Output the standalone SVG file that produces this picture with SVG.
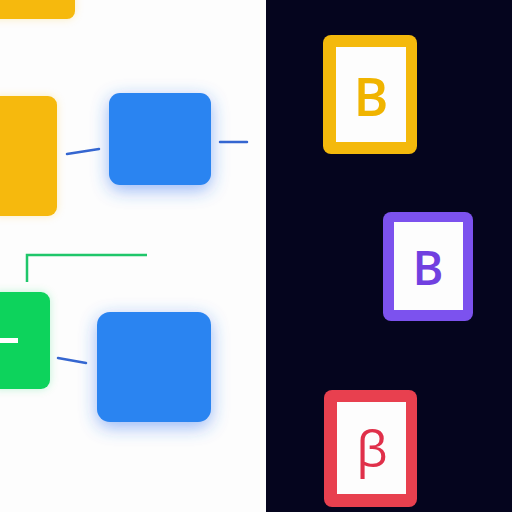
<svg xmlns="http://www.w3.org/2000/svg" width="512" height="512" viewBox="0 0 512 512">
  <defs>
    <filter id="shadow" x="-40%" y="-40%" width="180%" height="180%">
      <feGaussianBlur in="SourceAlpha" stdDeviation="9" result="b"/>
      <feOffset in="b" dy="5" result="o"/>
      <feFlood flood-color="#2f6ff0" flood-opacity="0.5"/>
      <feComposite in2="o" operator="in" result="s"/>
      <feMerge><feMergeNode in="s"/><feMergeNode in="SourceGraphic"/></feMerge>
    </filter>
    <filter id="shadowY" x="-30%" y="-30%" width="160%" height="160%">
      <feGaussianBlur in="SourceAlpha" stdDeviation="4" result="b"/>
      <feFlood flood-color="#f5b800" flood-opacity="0.25"/>
      <feComposite in2="b" operator="in" result="s"/>
      <feMerge><feMergeNode in="s"/><feMergeNode in="SourceGraphic"/></feMerge>
    </filter>
    <filter id="shadowG" x="-30%" y="-30%" width="160%" height="160%">
      <feGaussianBlur in="SourceAlpha" stdDeviation="4" result="b"/>
      <feFlood flood-color="#0fd35c" flood-opacity="0.25"/>
      <feComposite in2="b" operator="in" result="s"/>
      <feMerge><feMergeNode in="s"/><feMergeNode in="SourceGraphic"/></feMerge>
    </filter>
  </defs>
  <style>
    .conn { stroke: #3566d0; stroke-width: 2.5; fill: none; stroke-linecap: round; }
    .green { stroke: #1fc66a; stroke-width: 2.5; fill: none; }
    .blue { fill: #2a84f1; }
    .letter { font-family: "Open Sans", "DejaVu Sans", sans-serif; text-anchor: middle; }
    .card-in { fill: #fdfdfd; }
  </style>

  <rect x="0" y="0" width="512" height="512" fill="#fdfdfd"/>
  <rect x="266" y="0" width="246" height="512" fill="#05051e"/>

  <g id="connectors">
    <line class="conn" x1="67" y1="154" x2="99" y2="149"/>
    <line class="conn" x1="220" y1="142" x2="247" y2="142"/>
    <polyline class="green" points="27,282 27,255 147,255"/>
    <line class="conn" x1="58" y1="358" x2="86" y2="363"/>
  </g>

  <g id="yellow-top">
    <rect x="-12" y="-12" width="87" height="31" rx="8" fill="#f6b90a" filter="url(#shadowY)"/>
  </g>
  <g id="yellow-mid">
    <rect x="-10" y="96" width="67" height="120" rx="9" fill="#f6b90a" filter="url(#shadowY)"/>
  </g>
  <g id="blue-top">
    <rect class="blue" x="109" y="93" width="102" height="92" rx="11" filter="url(#shadow)"/>
  </g>
  <g id="green-node">
    <rect x="-10" y="292" width="60" height="97" rx="9" fill="#0fd35c" filter="url(#shadowG)"/>
    <rect x="0" y="338" width="18" height="5" fill="#ffffff"/>
  </g>
  <g id="blue-bottom">
    <rect class="blue" x="97" y="312" width="114" height="110" rx="13" filter="url(#shadow)"/>
  </g>

  <g id="card-yellow">
    <rect x="323" y="35" width="94" height="119" rx="8" fill="#f4b90c"/>
    <rect class="card-in" x="336" y="47" width="70" height="95"/>
    <text class="letter" x="371" y="116" font-size="53" font-weight="600" fill="#f0b400">B</text>
  </g>
  <g id="card-purple">
    <rect x="383" y="212" width="90" height="109" rx="8" fill="#7c52ee"/>
    <rect class="card-in" x="394" y="222" width="69" height="88"/>
    <text class="letter" x="428" y="285" font-size="47" font-weight="600" fill="#7140e0">B</text>
  </g>
  <g id="card-red">
    <rect x="324" y="390" width="93" height="117" rx="8" fill="#e8404f"/>
    <rect class="card-in" x="337" y="402" width="69" height="92"/>
    <text class="letter" x="372" y="467" font-size="50" fill="#e0304a">β</text>
  </g>
</svg>
